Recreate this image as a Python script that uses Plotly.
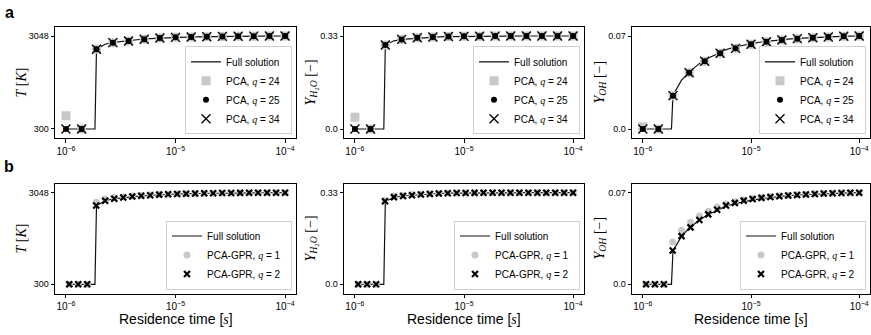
import plotly.graph_objects as go

W, H = 871, 335

# ---------------- data ----------------
# Full solution (reference) curve
time_full = [1.0e-6, 1.84e-6, 1.9e-6, 2.28e-6, 2.7e-6, 3.3e-6, 4.0e-6, 4.9e-6, 5.9e-6,
             7.1e-6, 8.6e-6, 1.04e-5, 1.25e-5, 1.51e-5, 1.83e-5, 2.2e-5, 2.67e-5,
             3.22e-5, 3.89e-5, 4.7e-5, 5.68e-5, 6.86e-5, 8.28e-5, 1.0e-4]
T_full = [300, 300, 2660, 2805, 2860, 2898, 2927, 2952, 2970, 2986, 2999, 3009, 3017,
          3023, 3029, 3033, 3036, 3039, 3041, 3043, 3045, 3046, 3047, 3048]
H2O_full = [0.0, 0.0, 0.298, 0.313, 0.318, 0.321, 0.3235, 0.3255, 0.327, 0.328, 0.3285,
            0.329, 0.3293, 0.3295, 0.3297, 0.3298, 0.3299, 0.33, 0.33, 0.33, 0.33, 0.33,
            0.33, 0.33]
OH_full = [0.0, 0.0, 0.0255, 0.0368, 0.0430, 0.0490, 0.0532, 0.0568, 0.0597, 0.0617,
           0.0633, 0.0645, 0.0655, 0.0664, 0.0671, 0.0677, 0.0682, 0.0686, 0.0690,
           0.0693, 0.0695, 0.0697, 0.0699, 0.0700]

# Row a: PCA reconstructions
time_a = [1.0e-6, 1.39e-6, 1.9e-6, 2.68e-6, 3.73e-6, 5.18e-6, 7.2e-6, 1.0e-5, 1.39e-5,
          1.93e-5, 2.68e-5, 3.73e-5, 5.18e-5, 7.2e-5, 1.0e-4]
T_pca24 = [695, 300, 2655, 2852, 2900, 2950, 2988, 3008, 3020, 3028, 3036, 3040, 3044, 3046, 3048]
T_pca25 = [300, 300, 2655, 2852, 2900, 2950, 2988, 3008, 3020, 3028, 3036, 3040, 3044, 3046, 3048]
T_pca34 = [300, 300, 2655, 2852, 2900, 2950, 2988, 3008, 3020, 3028, 3036, 3040, 3044, 3046, 3048]
H2O_pca24 = [0.042, 0.0, 0.298, 0.318, 0.324, 0.3265, 0.328, 0.3288, 0.3293, 0.3296, 0.3298, 0.3299, 0.33, 0.33, 0.33]
H2O_pca25 = [0.0, 0.0, 0.298, 0.318, 0.324, 0.3265, 0.328, 0.3288, 0.3293, 0.3296, 0.3298, 0.3299, 0.33, 0.33, 0.33]
H2O_pca34 = [0.0, 0.0, 0.298, 0.318, 0.324, 0.3265, 0.328, 0.3288, 0.3293, 0.3296, 0.3298, 0.3299, 0.33, 0.33, 0.33]
OH_pca24 = [0.0017, 0.0, 0.0251, 0.0424, 0.0510, 0.0570, 0.0607, 0.0638, 0.0657, 0.0670, 0.0680, 0.0687, 0.0693, 0.0698, 0.0700]
OH_pca25 = [0.0, 0.0, 0.0251, 0.0424, 0.0510, 0.0570, 0.0607, 0.0638, 0.0657, 0.0670, 0.0680, 0.0687, 0.0693, 0.0698, 0.0700]
OH_pca34 = [0.0, 0.0, 0.0251, 0.0424, 0.0510, 0.0570, 0.0607, 0.0638, 0.0657, 0.0670, 0.0680, 0.0687, 0.0693, 0.0698, 0.0700]

# Row b: PCA-GPR reconstructions
time_b = [1.072e-6, 1.294e-6, 1.563e-6, 1.888e-6, 2.280e-6, 2.761e-6, 3.334e-6, 4.027e-6,
          4.864e-6, 5.875e-6, 7.096e-6, 8.570e-6, 1.035e-5, 1.250e-5, 1.510e-5, 1.828e-5,
          2.208e-5, 2.667e-5, 3.221e-5, 3.890e-5, 4.699e-5, 5.675e-5, 6.855e-5, 8.279e-5, 1.0e-4]
T_gpr1 = [300, 300, 300, 2759, 2857, 2900, 2925, 2946, 2963, 2978, 2992, 3003, 3012, 3019,
          3025, 3030, 3034, 3037, 3040, 3042, 3044, 3045, 3046, 3047, 3048]
T_gpr2 = [300, 300, 300, 2663, 2808, 2868, 2903, 2932, 2955, 2973, 2989, 3001, 3011, 3018,
          3024, 3029, 3033, 3036, 3039, 3042, 3044, 3045, 3046, 3047, 3048]
H2O_gpr1 = [0.0, 0.0, 0.0, 0.303, 0.317, 0.321, 0.3235, 0.3255, 0.327, 0.328, 0.3286, 0.329,
            0.3293, 0.3295, 0.3297, 0.3298, 0.3299, 0.33, 0.33, 0.33, 0.33, 0.33, 0.33, 0.33, 0.33]
H2O_gpr2 = [0.0, 0.0, 0.0, 0.299, 0.314, 0.318, 0.321, 0.3235, 0.3255, 0.327, 0.328, 0.3285,
            0.329, 0.3293, 0.3295, 0.3297, 0.3298, 0.3299, 0.33, 0.33, 0.33, 0.33, 0.33, 0.33, 0.33]
OH_gpr1 = [0.0, 0.0, 0.0, 0.0324, 0.0413, 0.0474, 0.0521, 0.0558, 0.0590, 0.0614, 0.0630,
           0.0645, 0.0656, 0.0664, 0.0670, 0.0676, 0.0680, 0.0684, 0.0688, 0.0691, 0.0694,
           0.0696, 0.0698, 0.0699, 0.0700]
OH_gpr2 = [0.0, 0.0, 0.0, 0.0258, 0.0368, 0.0435, 0.0491, 0.0534, 0.0570, 0.0602, 0.0622,
           0.0639, 0.0651, 0.0660, 0.0667, 0.0673, 0.0678, 0.0682, 0.0686, 0.0690, 0.0693,
           0.0695, 0.0697, 0.0699, 0.0700]

x_ticks = [1e-6, 1e-5, 1e-4]
x_ticktext = ["10<sup>−6</sup>", "10<sup>−5</sup>", "10<sup>−4</sup>"]
T_ticks, T_ticktext = [300, 3048], ["300", "3048"]
H2O_ticks, H2O_ticktext = [0.0, 0.33], ["0.0", "0.33"]
OH_ticks, OH_ticktext = [0.0, 0.07], ["0.0", "0.07"]

SERIF = "Liberation Serif"
SANS = "Liberation Sans, Arial, sans-serif"
PAD = "\u00a0\u00a0"

def q(v):
    return f"<span style=\"font-family:'{SERIF}'\"><i>q</i></span> = {v}{PAD}"

ylabels = [
    f"<span style=\"font-family:'{SERIF}'\"><i>T</i> [<i>K</i>]</span>",
    f"<span style=\"font-family:'{SERIF}'\"><i>Y</i><sub><i>H</i>₂<i>O</i></sub> [−]</span>",
    f"<span style=\"font-family:'{SERIF}'\"><i>Y</i><sub><i>OH</i></sub> [−]</span>",
]

# ---------------- layout geometry (pixels) ----------------
cols_px = [(55, 296), (344, 584), (632, 870)]
rows_px = [(26.7, 138.3), (183.5, 293.5)]

def px_x(v):
    return v / W

def px_y(v):
    return 1 - v / H

fig = go.Figure()

full_vals = [T_full, H2O_full, OH_full]
a_vals = [(T_pca24, T_pca25, T_pca34), (H2O_pca24, H2O_pca25, H2O_pca34),
          (OH_pca24, OH_pca25, OH_pca34)]
b_vals = [(T_gpr1, T_gpr2), (H2O_gpr1, H2O_gpr2), (OH_gpr1, OH_gpr2)]
yranges = [[25, 3323], [-0.033, 0.363], [-0.007, 0.077]]
yticks = [(T_ticks, T_ticktext), (H2O_ticks, H2O_ticktext), (OH_ticks, OH_ticktext)]

LINE_COL = "#111111"
GRAY = "#c8c8c8"

idx = 0
for r in range(2):
    for c in range(3):
        idx += 1
        sfx = "" if idx == 1 else str(idx)
        xa, ya = "x" + sfx, "y" + sfx
        leg = "legend" + sfx
        fig.add_trace(go.Scatter(x=time_full, y=full_vals[c], mode="lines",
                                 name="Full solution" + PAD,
                                 line=dict(color=LINE_COL, width=1.2), xaxis=xa, yaxis=ya,
                                 legend=leg))
        if r == 0:
            s24, s25, s34 = a_vals[c]
            fig.add_trace(go.Scatter(x=time_a, y=s24, mode="markers", name="PCA, " + q(24),
                                     marker=dict(symbol="square", size=9, color=GRAY),
                                     xaxis=xa, yaxis=ya, legend=leg))
            fig.add_trace(go.Scatter(x=time_a, y=s25, mode="markers", name="PCA, " + q(25),
                                     marker=dict(symbol="circle", size=6, color="black"),
                                     xaxis=xa, yaxis=ya, legend=leg))
            fig.add_trace(go.Scatter(x=time_a, y=s34, mode="markers", name="PCA, " + q(34),
                                     marker=dict(symbol="x-thin", size=9, color="black",
                                                 line=dict(width=1.3, color="black")),
                                     xaxis=xa, yaxis=ya, legend=leg))
        else:
            g1, g2 = b_vals[c]
            fig.add_trace(go.Scatter(x=time_b, y=g1, mode="markers", name="PCA-GPR, " + q(1),
                                     marker=dict(symbol="circle", size=7, color=GRAY),
                                     xaxis=xa, yaxis=ya, legend=leg))
            fig.add_trace(go.Scatter(x=time_b, y=g2, mode="markers", name="PCA-GPR, " + q(2),
                                     marker=dict(symbol="x-thin", size=6, color="black",
                                                 line=dict(width=2.2, color="black")),
                                     xaxis=xa, yaxis=ya, legend=leg))
        x0, x1 = cols_px[c]
        y0, y1 = rows_px[r]
        axis_common = dict(showline=True, mirror=True, linecolor="black", linewidth=1,
                           showgrid=False, zeroline=False, ticks="outside", ticklen=3.5,
                           tickwidth=0.8, tickcolor="black", automargin=False)
        fig.layout["xaxis" + sfx] = dict(axis_common, type="log", range=[-6.1, -3.9],
                                         domain=[px_x(x0), px_x(x1)], anchor=ya,
                                         tickvals=x_ticks, ticktext=x_ticktext,
                                         tickfont=dict(family=SANS, size=10, color="black"))
        fig.layout["yaxis" + sfx] = dict(axis_common, range=yranges[c],
                                         domain=[px_y(y1), px_y(y0)], anchor=xa,
                                         tickvals=yticks[c][0], ticktext=yticks[c][1],
                                         tickfont=dict(family=SANS, size=9, color="black"))
        fig.layout[leg] = dict(x=px_x(x1 - 4), y=px_y(y1 - 4), xanchor="right", yanchor="bottom",
                               xref="paper", yref="paper",
                               bgcolor="rgba(255,255,255,0.85)", bordercolor="#d0d0d0",
                               borderwidth=1, font=dict(family=SANS, size=10, color="black"),
                               tracegroupgap=0, itemwidth=30)
        # y title
        ytx = [21, 311, 600][c]
        fig.add_annotation(text=ylabels[c], x=px_x(ytx), y=px_y((y0 + y1) / 2), xref="paper",
                           yref="paper", textangle=-90, showarrow=False, xanchor="center",
                           yanchor="middle", font=dict(size=14, color="black"))
        if r == 1:
            fig.add_annotation(text=f"Residence time [<span style=\"font-family:'{SERIF}'\"><i>s</i></span>]",
                               x=px_x((x0 + x1) / 2), y=px_y(319), xref="paper", yref="paper",
                               showarrow=False, xanchor="center", yanchor="middle",
                               font=dict(family=SANS, size=14, color="black"))

# panel letters
for lab, yy in [("a", 13), ("b", 166)]:
    fig.add_annotation(text=f"<b>{lab}</b>", x=px_x(9), y=px_y(yy), xref="paper", yref="paper",
                       showarrow=False, xanchor="center", yanchor="middle",
                       font=dict(family=SANS, size=16, color="black"))

fig.update_layout(width=W, height=H, margin=dict(l=0, r=0, t=0, b=0, autoexpand=False),
                  paper_bgcolor="white", plot_bgcolor="white", font=dict(family=SANS))

fig.write_html("out.html", config={"displayModeBar": False},
               post_script="document.body.style.margin='0';document.body.style.overflow='hidden';")
